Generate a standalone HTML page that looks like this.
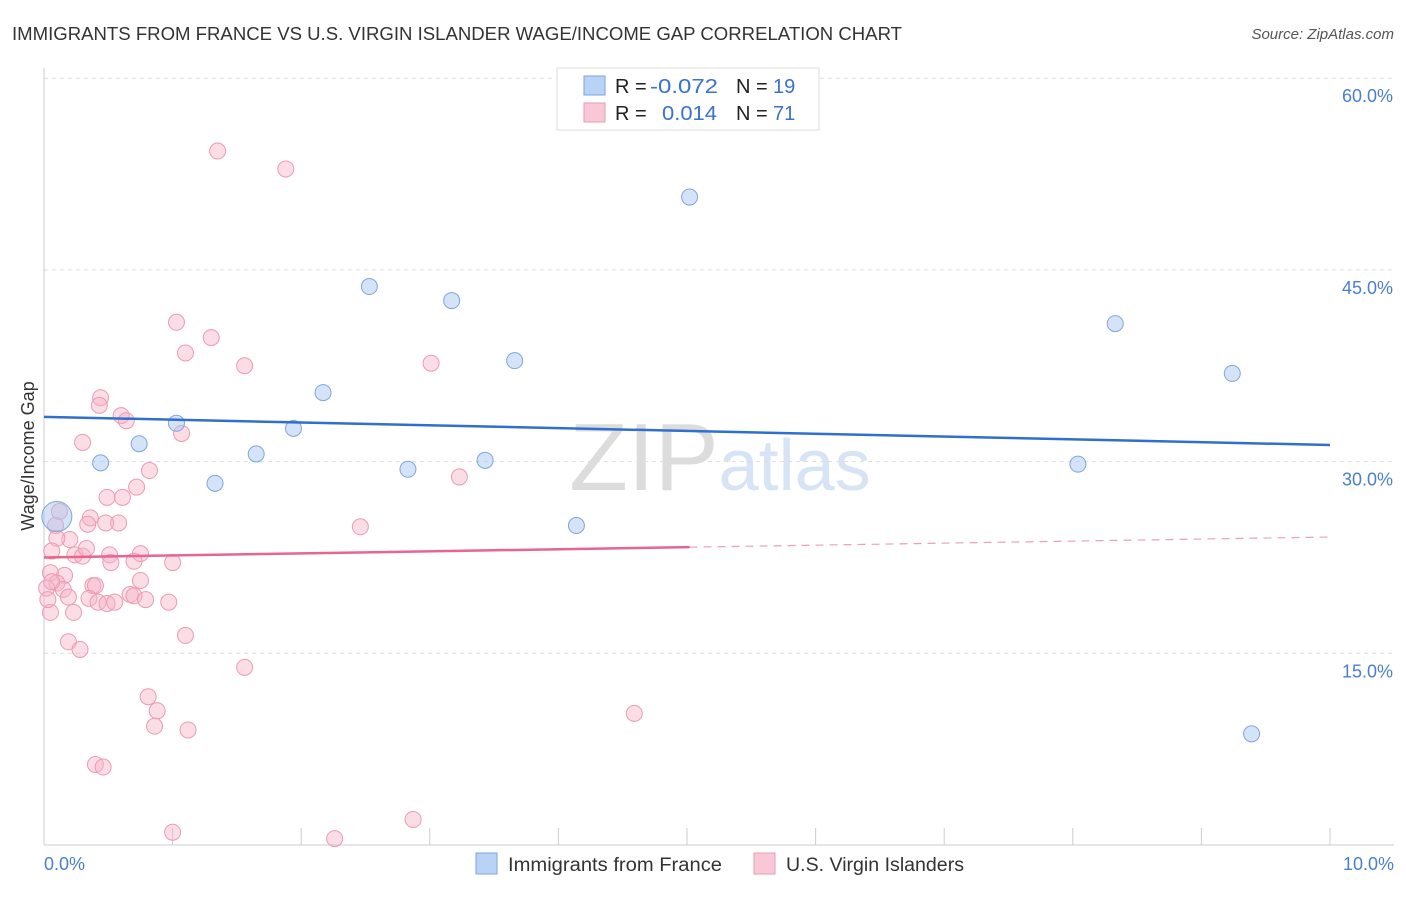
<!DOCTYPE html>
<html><head><meta charset="utf-8"><style>
body{margin:0;background:#fff;font-family:"Liberation Sans",sans-serif;}
svg text{font-family:"Liberation Sans",sans-serif;}
</style></head><body>
<svg id="chart" width="1406" height="892" xmlns="http://www.w3.org/2000/svg">
<text x="12" y="40" font-size="18" fill="#333" textLength="890" lengthAdjust="spacingAndGlyphs">IMMIGRANTS FROM FRANCE VS U.S. VIRGIN ISLANDER WAGE/INCOME GAP CORRELATION CHART</text>
<text x="1394" y="39" font-size="15" fill="#555" text-anchor="end" font-style="italic">Source: ZipAtlas.com</text>
<text x="720" y="490" font-size="96" text-anchor="middle" font-family="Liberation Serif" fill="#e4e4e4"><tspan fill="#dcdcdc">ZIP</tspan><tspan fill="#d6e4f5" font-family="Liberation Sans" font-size="72">atlas</tspan></text>
<g id="grid"></g><g id="pts"></g><g id="lines"></g>
<text transform="translate(34,456) rotate(-90)" font-size="18" fill="#333" text-anchor="middle">Wage/Income Gap</text>
<text x="44" y="870" font-size="18" fill="#4a7fd0">0.0%</text>
<text x="1394" y="870" font-size="18" fill="#4a7fd0" text-anchor="end">10.0%</text>
<g>
<rect x="557" y="68" width="262" height="62" fill="#fff" stroke="#ddd"/>
<rect x="584" y="76" width="21" height="19" fill="#b8d3f5" stroke="#7ea6de"/>
<rect x="584" y="103" width="21" height="19" fill="#f9c8d6" stroke="#eb9bb4"/>
<text x="615" y="93" font-size="20" fill="#222">R =</text>
<text x="650" y="93" font-size="20" fill="#3a72d0" textLength="68" lengthAdjust="spacingAndGlyphs">-0.072</text>
<text x="736" y="93" font-size="20" fill="#222">N =</text>
<text x="773" y="93" font-size="20" fill="#3a72d0">19</text>
<text x="615" y="120" font-size="20" fill="#222">R =</text>
<text x="662" y="120" font-size="20" fill="#3a72d0" textLength="55" lengthAdjust="spacingAndGlyphs">0.014</text>
<text x="736" y="120" font-size="20" fill="#222">N =</text>
<text x="773" y="120" font-size="20" fill="#3a72d0">71</text>
</g>
<g>
<rect x="476" y="853" width="21" height="21" fill="#b8d3f5" stroke="#7ea6de"/>
<text x="508" y="871" font-size="19" fill="#333" textLength="214" lengthAdjust="spacingAndGlyphs">Immigrants from France</text>
<rect x="754" y="853" width="21" height="21" fill="#f9c8d6" stroke="#eb9bb4"/>
<text x="786" y="871" font-size="19" fill="#333" textLength="178" lengthAdjust="spacingAndGlyphs">U.S. Virgin Islanders</text>
</g>
</svg>
<script>
const yTicks=[15,30,45,60];
const yTickLabels=["15.0%","30.0%","45.0%","60.0%"];
const xTicks=[1,2,3,4,5,6,7,8,9,10];
const blueX=[0.10,0.44,0.74,1.03,1.33,1.65,1.94,2.17,2.53,2.83,3.17,3.43,3.66,4.14,5.02,8.04,8.33,9.24,9.39];
const blueY=[25.7,29.9,31.4,33.0,28.3,30.6,32.6,35.4,43.7,29.4,42.6,30.1,37.9,25.0,50.7,29.8,40.8,36.9,8.7];
const pinkX=[1.35,1.88,1.03,1.30,1.10,1.56,3.01,0.44,0.43,0.60,0.64,1.07,0.30,0.82,3.23,0.72,0.49,0.61,0.36,0.34,0.58,0.12,0.09,2.46,0.20,0.10,0.06,0.24,0.30,0.51,0.75,1.00,0.70,0.52,0.05,0.16,0.75,0.10,0.38,0.40,0.02,0.15,0.19,0.35,0.67,0.70,0.79,0.42,0.49,0.55,0.97,0.05,0.23,0.19,0.28,1.10,1.56,0.81,0.88,0.86,1.12,4.59,0.40,0.46,1.00,2.26,2.87,0.33,0.48,0.03,0.06];
const pinkY=[54.3,52.9,40.9,39.7,38.5,37.5,37.7,35.0,34.4,33.6,33.2,32.2,31.5,29.3,28.8,28.0,27.2,27.2,25.6,25.1,25.2,26.1,25.0,24.9,23.9,24.0,23.0,22.7,22.6,22.7,22.8,22.1,22.2,22.1,21.3,21.1,20.7,20.5,20.3,20.3,20.1,20.0,19.4,19.3,19.6,19.5,19.2,19.0,18.9,19.0,19.0,18.2,18.2,15.9,15.3,16.4,13.9,11.6,10.5,9.3,9.0,10.3,6.3,6.1,1.0,0.5,2.0,23.2,25.2,19.2,20.6];
const blueTrend=[33.5,31.3];
const pinkTrend=[22.5,24.1];
const X=v=>44+v*128.6, Y=v=>845-v*12.78;
const NS="http://www.w3.org/2000/svg";
function mk(t,a,p){const e=document.createElementNS(NS,t);for(const k in a)e.setAttribute(k,a[k]);p.appendChild(e);return e;}
const g=document.getElementById('grid');
yTicks.forEach((t,i)=>{
 const l=mk('line',{x1:44,x2:1394,y1:Y(t),y2:Y(t),stroke:'#ddd','stroke-dasharray':'4,4'},g);
 
 
 const tx=mk('text',{x:1393,y:Y(t)+24,'font-size':18,fill:'#4a7fd0','text-anchor':'end'},g);
 tx.textContent=yTickLabels[i];
 
 
});
const ax=mk('line',{x1:44,x2:44,y1:68,y2:845,stroke:'#ccc'},g);


const bx=mk('line',{x1:44,x2:1394,y1:845,y2:845,stroke:'#ccc'},g);


xTicks.forEach(t=>{
 const l=mk('line',{x1:X(t),x2:X(t),y1:828,y2:845,stroke:'#ccc'},g);
 
 
});
const p=document.getElementById('pts');
pinkX.forEach((x,i)=>{
 const c=mk('circle',{cx:X(x),cy:Y(pinkY[i]),r:8,fill:'rgba(246,180,200,0.45)',stroke:'#ec9ab5','stroke-width':1},p);
 
 
});
blueX.forEach((x,i)=>{
 const c=mk('circle',{cx:X(x),cy:Y(blueY[i]),r:i==0?15:8,fill:'rgba(170,200,240,0.5)',stroke:'#7ea6de','stroke-width':1},p);
 
 
});
const L=document.getElementById('lines');
const b=mk('line',{x1:X(0),x2:X(10),y1:Y(blueTrend[0]),y2:Y(blueTrend[1]),stroke:'#2f6fd0','stroke-width':2.5},L);


const mid=pinkTrend[0]+(pinkTrend[1]-pinkTrend[0])*0.502;
const ps=mk('line',{x1:X(0),x2:X(5.02),y1:Y(pinkTrend[0]),y2:Y(mid),stroke:'#e86592','stroke-width':2.5},L);


const pd=mk('line',{x1:X(5.02),x2:X(10),y1:Y(mid),y2:Y(pinkTrend[1]),stroke:'#eba0b8','stroke-width':1.2,'stroke-dasharray':'8,6'},L);


</script>
</body></html>
